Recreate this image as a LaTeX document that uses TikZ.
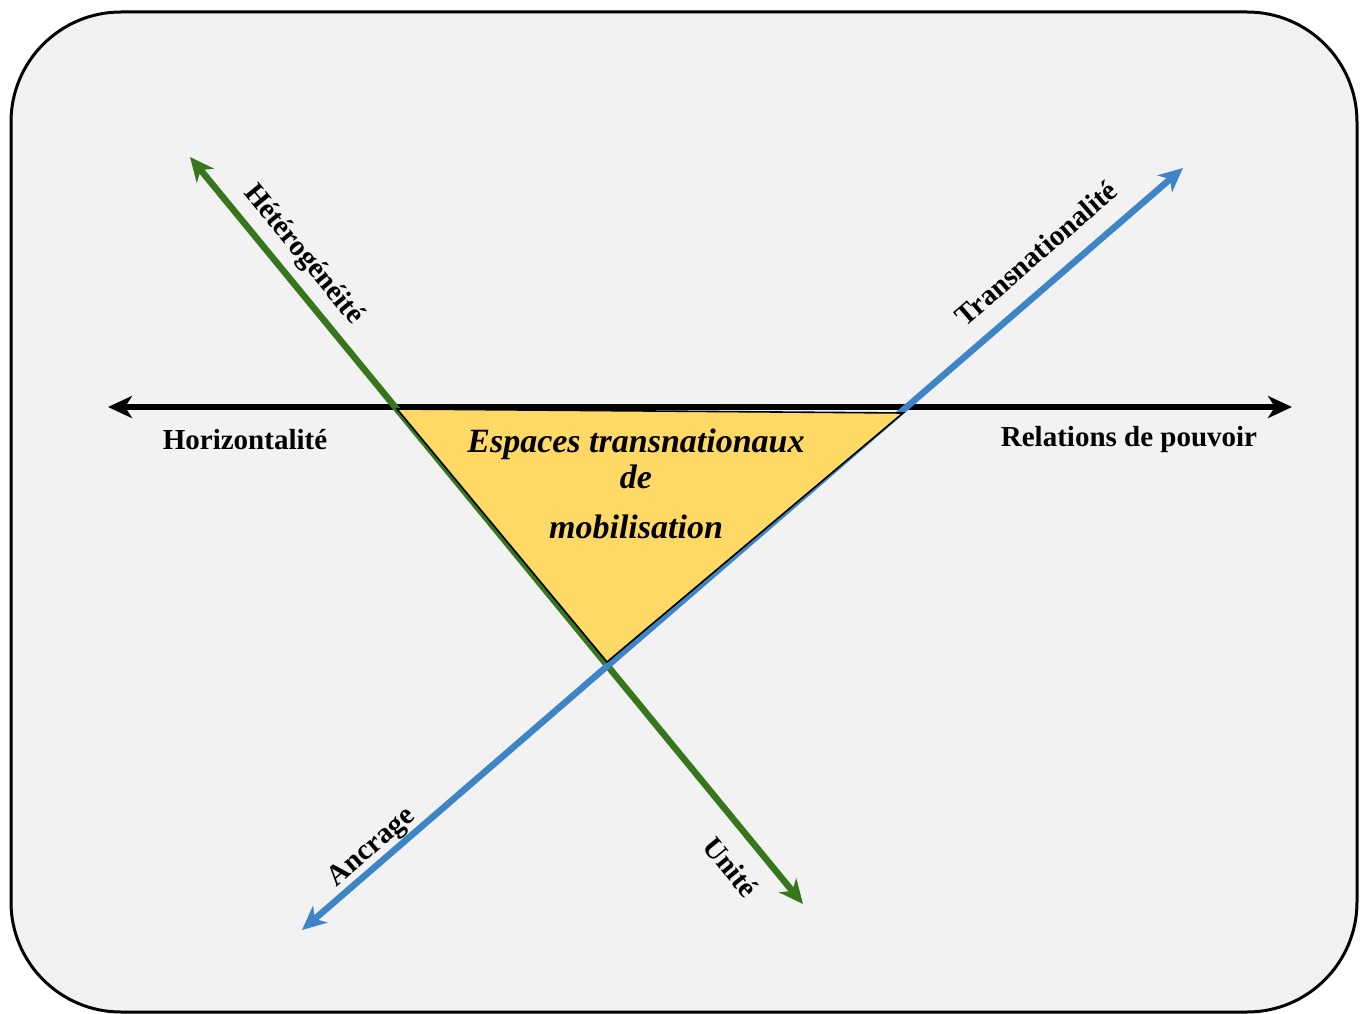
\documentclass[tikz,border=0pt]{standalone}
\usepackage{fontspec}
\setmainfont{Liberation Serif}
\usetikzlibrary{arrows.meta}
\definecolor{bgc}{HTML}{F2F2F2}
\definecolor{grn}{HTML}{38761D}
\definecolor{blu}{HTML}{3D85C6}
\definecolor{ylw}{HTML}{FFD966}
\tikzset{
  axisboth/.style={line width=6.5pt,{Stealth[length=24pt,width=22pt,inset=7pt]}-{Stealth[length=24pt,width=22pt,inset=7pt]}},
  lbl/.style={font=\bfseries\fontsize{29}{33}\selectfont,inner sep=0pt},
  ctr/.style={font=\bfseries\itshape\fontsize{34}{38}\selectfont,inner sep=0pt,align=center}
}
\begin{document}
\begin{tikzpicture}[x=1pt,y=-1pt]
\useasboundingbox (0,0) rectangle (1368,1014);
\draw[line width=3pt,fill=bgc,rounded corners=110pt] (11,12) rectangle (1357,1012);
% endpoints
\coordinate (hl) at (108,407);
\coordinate (hr) at (1292,407);
\coordinate (gt) at (190,157);
\coordinate (gb) at (803,904);
\coordinate (bb) at (302,930);
\coordinate (bt) at (1183,168);
\coordinate (t1) at (397,409);
\coordinate (t2) at (903,413);
\coordinate (t3) at (607,662);
\draw[axisboth,black] (hl) -- (hr);
\draw[axisboth,grn] (gt) -- (gb);
\draw[axisboth,blu] (bb) -- (bt);
\draw[fill=ylw,line width=1.6pt,line join=miter] (t1) -- (t2) -- (t3) -- cycle;
\node[ctr] (c1) at (636,444) {Espaces transnationaux};
\node[ctr] (c2) at (636,477) {de};
\node[ctr] (c3) at (636,527) {mobilisation};
\node[lbl] (lh) at (245,440) {Horizontalité};
\node[lbl] (lr) at (1129,440) {Relations de pouvoir};
\node[lbl,rotate=-50.6] (lhet) at (303,255) {Hétérogénéité};
\node[lbl,rotate=40.9] (ltr) at (1036,253) {Transnationalité};
\node[lbl,rotate=40.9] (lan) at (372,848) {Ancrage};
\node[lbl,rotate=-50.6] (lun) at (731,867) {Unité};
\end{tikzpicture}
\end{document}
